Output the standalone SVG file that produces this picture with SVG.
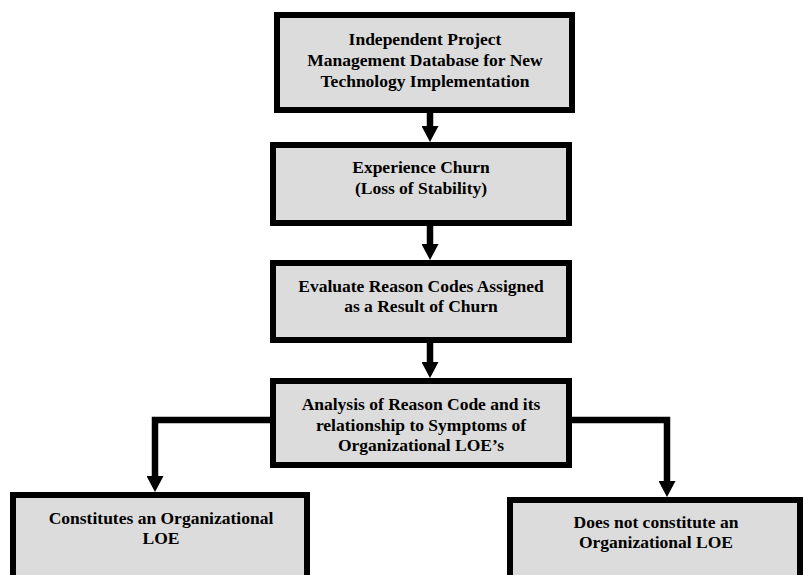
<svg xmlns="http://www.w3.org/2000/svg" width="804" height="575" viewBox="0 0 804 575">
<style>
.box{fill:#dcdcdc;stroke:#000;stroke-width:6}
.lbl{font-family:"Liberation Serif","Times New Roman",serif;font-weight:bold;font-size:17.5px;fill:#000;text-anchor:middle}
.con{fill:none;stroke:#000;stroke-width:6.5;stroke-linejoin:miter}
</style>
<defs>
<marker id="ah" markerUnits="userSpaceOnUse" viewBox="0 0 16 17" refX="2" refY="8.5" markerWidth="16" markerHeight="17" orient="auto">
<path d="M0,0 L16,8.5 L0,17 z" fill="#000"/>
</marker>
</defs>
<rect width="804" height="575" fill="#fff"/>
<g id="connectors">
<line class="con" x1="430" y1="113" x2="430" y2="128" marker-end="url(#ah)"/>
<line class="con" x1="430" y1="226" x2="430" y2="246" marker-end="url(#ah)"/>
<line class="con" x1="430" y1="343" x2="430" y2="364" marker-end="url(#ah)"/>
<polyline class="con" points="270,420 155,420 155,478" marker-end="url(#ah)"/>
<polyline class="con" points="572,420 667,420 667,483" marker-end="url(#ah)"/>
</g>
<g id="node1">
<rect class="box" x="277" y="15" width="295" height="95"/>
<text class="lbl" x="425" y="44.5">Independent Project</text>
<text class="lbl" x="425" y="65.5">Management Database for New</text>
<text class="lbl" x="425" y="86.5">Technology Implementation</text>
</g>
<g id="node2">
<rect class="box" x="273" y="145" width="296" height="78"/>
<text class="lbl" x="421" y="173">Experience Churn</text>
<text class="lbl" x="421" y="193.5">(Loss of Stability)</text>
</g>
<g id="node3">
<rect class="box" x="273" y="263" width="296" height="77"/>
<text class="lbl" x="421" y="291.5">Evaluate Reason Codes Assigned</text>
<text class="lbl" x="421" y="312">as a Result of Churn</text>
</g>
<g id="node4">
<rect class="box" x="273" y="381" width="296" height="84"/>
<text class="lbl" x="421" y="410">Analysis of Reason Code and its</text>
<text class="lbl" x="421" y="430.5">relationship to Symptoms of</text>
<text class="lbl" x="421" y="451">Organizational LOE’s</text>
</g>
<g id="node5">
<rect class="box" x="13" y="495" width="294" height="83"/>
<text class="lbl" x="161" y="524">Constitutes an Organizational</text>
<text class="lbl" x="161" y="544">LOE</text>
</g>
<g id="node6">
<rect class="box" x="510" y="500" width="290" height="80"/>
<text class="lbl" x="656" y="528">Does not constitute an</text>
<text class="lbl" x="656" y="548">Organizational LOE</text>
</g>
</svg>
